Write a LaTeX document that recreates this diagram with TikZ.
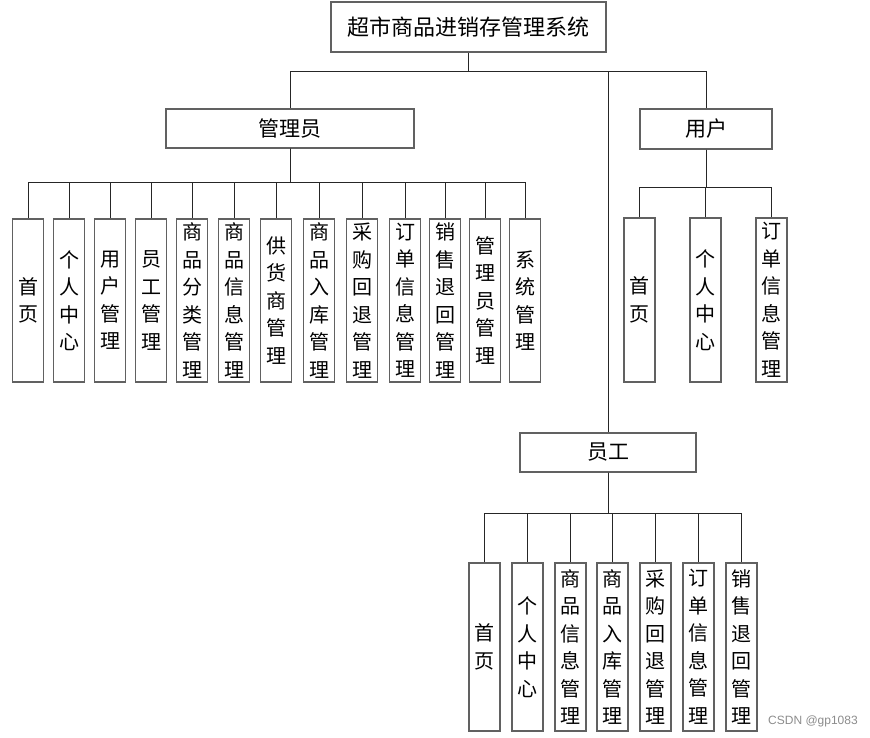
\documentclass[tikz,border=0pt]{standalone}
\usepackage{fontspec}
\newfontfamily\cjk{Noto Sans CJK SC}
\newfontfamily\wmfont{Liberation Sans}
\tikzset{
  boxline/.style={draw=black!62, line width=1.3pt, fill=white},
  hbox/.style={boxline, inner sep=0pt, font=\cjk\fontsize{21}{24}\selectfont},
  vbox/.style={boxline, inner sep=0pt, minimum width=31pt, align=center, font=\cjk\fontsize{20}{27.5}\selectfont},
  abox/.style={vbox, minimum height=163pt},
  ebox/.style={vbox, minimum height=168pt},
  conn/.style={draw=black!85, line width=1pt},
}
\begin{document}
\begin{tikzpicture}[x=1pt,y=-1pt]
\useasboundingbox (0,0) rectangle (870,737);
% top
\node[hbox, minimum width=275pt, minimum height=50pt, font=\cjk\fontsize{22}{26}\selectfont] (top) at (468.5,27) {超市商品进销存管理系统};
\node[hbox, minimum width=248pt, minimum height=39pt] (admin) at (290,128.5) {管理员};
\node[hbox, minimum width=132pt, minimum height=40pt] (user) at (706,129) {用户};
\node[hbox, minimum width=176pt, minimum height=39pt] (emp) at (608,452.5) {员工};
\draw[conn] (top.south) -- ++(0,19) coordinate (tb) -| (admin.north);
\draw[conn] (tb) -| (user.north);
\draw[conn] (tb) -| (emp.north);
% admin children
\node[abox] (a1) at (28,300.5) {首\\页};
\node[abox] (a2) at (69,300.5) {个\\人\\中\\心};
\node[abox] (a3) at (110,300.5) {用\\户\\管\\理};
\node[abox] (a4) at (151,300.5) {员\\工\\管\\理};
\node[abox] (a5) at (192,300.5) {商\\品\\分\\类\\管\\理};
\node[abox] (a6) at (234,300.5) {商\\品\\信\\息\\管\\理};
\node[abox] (a7) at (276,300.5) {供\\货\\商\\管\\理};
\node[abox] (a8) at (319,300.5) {商\\品\\入\\库\\管\\理};
\node[abox] (a9) at (362,300.5) {采\\购\\回\\退\\管\\理};
\node[abox] (a10) at (405,300.5) {订\\单\\信\\息\\管\\理};
\node[abox] (a11) at (445,300.5) {销\\售\\退\\回\\管\\理};
\node[abox] (a12) at (485,300.5) {管\\理\\员\\管\\理};
\node[abox] (a13) at (525,300.5) {系\\统\\管\\理};
\foreach \i in {1,...,13}{
  \draw[conn] (admin.south) -- ++(0,34) -| (a\i.north);
}
% user children
\node[abox, minimum height=164pt] (u1) at (639.5,300) {首\\页};
\node[abox, minimum height=164pt] (u2) at (705.5,300) {个\\人\\中\\心};
\node[abox, minimum height=164pt] (u3) at (771.5,300) {订\\单\\信\\息\\管\\理};
\foreach \i in {1,2,3}{
  \draw[conn] (user.south) -- ++(0,38) -| (u\i.north);
}
% employee children
\node[ebox] (e1) at (484.5,647) {首\\页};
\node[ebox] (e2) at (527.5,647) {个\\人\\中\\心};
\node[ebox] (e3) at (570.5,647) {商\\品\\信\\息\\管\\理};
\node[ebox] (e4) at (612.5,647) {商\\品\\入\\库\\管\\理};
\node[ebox] (e5) at (655.5,647) {采\\购\\回\\退\\管\\理};
\node[ebox] (e6) at (698.5,647) {订\\单\\信\\息\\管\\理};
\node[ebox] (e7) at (741.5,647) {销\\售\\退\\回\\管\\理};
\foreach \i in {1,...,7}{
  \draw[conn] (emp.south) -- ++(0,41) -| (e\i.north);
}
% watermark
\node[text=black!45, font=\wmfont\fontsize{12}{14}\selectfont, inner sep=0pt] (wm) at (813,721) {CSDN @gp1083};
\end{tikzpicture}
\end{document}
